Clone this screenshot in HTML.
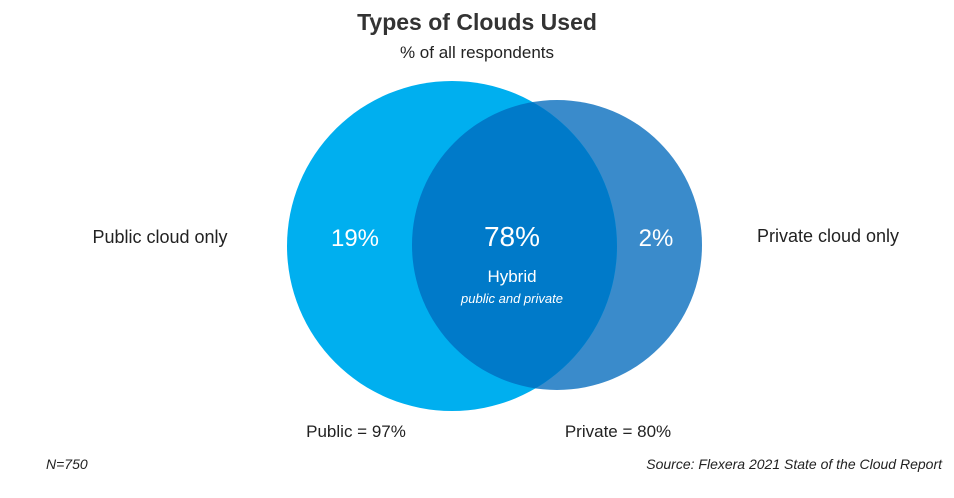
<!DOCTYPE html>
<html><head><style>
body{margin:0;background:#fff;}
svg text{font-family:"Liberation Sans",sans-serif;}
</style></head><body>
<svg width="954" height="493" viewBox="0 0 954 493" xmlns="http://www.w3.org/2000/svg">
<defs><clipPath id="c"><circle cx="452" cy="246" r="165"/></clipPath></defs>
<text x="477" y="30" text-anchor="middle" font-size="23" font-weight="bold" fill="#333">Types of Clouds Used</text>
<text x="477" y="58" text-anchor="middle" font-size="17" fill="#222">% of all respondents</text>
<circle cx="557" cy="245" r="145" fill="#3A8BCB"/>
<circle cx="452" cy="246" r="165" fill="#00AFEF"/>
<circle cx="557" cy="245" r="145" fill="#007AC9" clip-path="url(#c)"/>
<text x="355" y="246" text-anchor="middle" font-size="24" fill="#fff">19%</text>
<text x="512" y="246" text-anchor="middle" font-size="28" fill="#fff">78%</text>
<text x="512" y="282" text-anchor="middle" font-size="17" fill="#fff">Hybrid</text>
<text x="512" y="303" text-anchor="middle" font-size="13" font-style="italic" fill="#fff">public and private</text>
<text x="656" y="246" text-anchor="middle" font-size="24" fill="#fff">2%</text>
<text x="160" y="243" text-anchor="middle" font-size="18" fill="#222">Public cloud only</text>
<text x="828" y="242" text-anchor="middle" font-size="18" fill="#222">Private cloud only</text>
<text x="356" y="437" text-anchor="middle" font-size="17" fill="#222">Public = 97%</text>
<text x="618" y="437" text-anchor="middle" font-size="17" fill="#222">Private = 80%</text>
<text x="46" y="469" font-size="14" font-style="italic" fill="#222">N=750</text>
<text x="942" y="469" text-anchor="end" font-size="14" font-style="italic" fill="#222">Source: Flexera 2021 State of the Cloud Report</text>
</svg>
</body></html>
